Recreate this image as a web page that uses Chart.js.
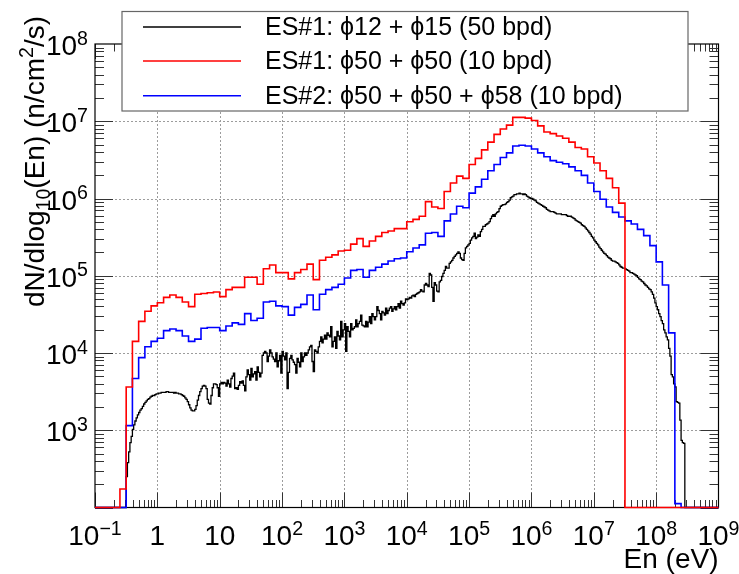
<!DOCTYPE html>
<html>
<head>
<meta charset="utf-8">
<title>Neutron spectrum</title>
<script src="https://cdn.jsdelivr.net/npm/chart.js@4.4.1/dist/chart.umd.min.js"></script>
<style>
  html, body { margin: 0; padding: 0; background: #fff; }
  canvas { display: block; }
</style>
</head>
<body>
<canvas id="chart" width="739" height="574"></canvas>
<script>
// Axis ranges
const eMin = 0.1, eMax = 1e9;
const fluxMin = 1e2, fluxMax = 1e8;

// Tick labels (base, exponent)
const xTickValues = [0.1, 1, 10, 1e2, 1e3, 1e4, 1e5, 1e6, 1e7, 1e8, 1e9];
const xTickLabels = [['10', '\u22121'], ['1', ''], ['10', ''], ['10', '2'], ['10', '3'], ['10', '4'],
  ['10', '5'], ['10', '6'], ['10', '7'], ['10', '8'], ['10', '9']];
const yTickValues = [1e3, 1e4, 1e5, 1e6, 1e7, 1e8];
const yTickLabels = [['10', '3'], ['10', '4'], ['10', '5'], ['10', '6'], ['10', '7'], ['10', '8']];

// Series
const seriesNames = ['ES#1: \u03d512 + \u03d515 (50 bpd)', 'ES#1: \u03d550 + \u03d550 (10 bpd)', 'ES#2: \u03d550 + \u03d550 + \u03d558 (10 bpd)'];
const seriesColors = ['#000000', '#ff0000', '#0000ff'];

// log10 of flux per bin (null = empty bin)
// red: 10 bins per decade starting at 0.1 eV
const redLog10 = [null, null, null, null, 2.24, 3.56, 4.15, 4.41, 4.54, 4.61,
  4.65, 4.72, 4.75, 4.72, 4.66, 4.60, 4.76, 4.77, 4.78, 4.79,
  4.73, 4.82, 4.85, 4.85, 4.98, 4.98, 4.89, 5.09, 5.14, 5.04,
  5.04, 4.96, 5.04, 5.08, 5.15, 4.95, 5.20, 5.24, 5.27, 5.32,
  5.33, 5.41, 5.48, 5.38, 5.45, 5.51, 5.56, 5.58, 5.61, 5.61,
  5.70, 5.73, 5.77, 5.96, 5.89, 5.87, 6.09, 6.20, 6.29, 6.26,
  6.44, 6.52, 6.63, 6.73, 6.83, 6.90, 6.95, 7.05, 7.05, 7.04,
  7.01, 6.94, 6.86, 6.84, 6.81, 6.78, 6.73, 6.66, 6.64, 6.54,
  6.46, 6.36, 6.26, 6.14, 5.94];

// blue: 10 bins per decade starting at 0.1 eV
const blueLog10 = [null, null, null, null, null, 3.06, 3.67, 3.94, 4.08, 4.15,
  4.19, 4.29, 4.31, 4.29, 4.22, 4.15, 4.18, 4.32, 4.33, 4.33,
  4.29, 4.35, 4.39, 4.37, 4.51, 4.42, 4.45, 4.66, 4.67, 4.61,
  4.60, 4.49, 4.59, 4.63, 4.75, 4.56, 4.76, 4.82, 4.85, 4.89,
  4.97, 5.07, 5.08, 4.98, 5.07, 5.11, 5.15, 5.19, 5.22, 5.23,
  5.31, 5.36, 5.40, 5.55, 5.56, 5.51, 5.71, 5.80, 5.90, 5.88,
  6.07, 6.15, 6.25, 6.36, 6.44, 6.53, 6.59, 6.68, 6.69, 6.68,
  6.64, 6.59, 6.54, 6.49, 6.47, 6.45, 6.41, 6.36, 6.30, 6.20,
  6.09, 5.99, 5.89, 5.82, 5.76, 5.71, 5.67, 5.60, 5.52, 5.39,
  5.18, 4.88, 4.26, 2.05];

// black: 50 bins per decade, first listed bin starts at 10^-0.5 eV
const blackFirstLowE = 0.316228;
const blackLog10 = [
  2.40, 2.58, 2.72, 2.84, 2.92, 3.01, 3.07, 3.12, 3.16, 3.20,
  3.23, 3.26, 3.28, 3.31, 3.34, 3.36, 3.38, 3.40, 3.41, 3.43,
  3.44, 3.45, 3.45, 3.46, 3.47, 3.47, 3.48, 3.48, 3.49, 3.49,
  3.49, 3.49, 3.50, 3.50, 3.49, 3.49, 3.49, 3.49, 3.48, 3.49,
  3.48, 3.48, 3.47, 3.47, 3.46, 3.45, 3.44, 3.42, 3.40, 3.37,
  3.33, 3.29, 3.26, 3.25, 3.25, 3.27, 3.32, 3.39, 3.45, 3.50,
  3.54, 3.57, 3.58, 3.57, 3.54, 3.40, 3.35, 3.34, 3.45, 3.55,
  3.60, 3.60, 3.59, 3.55, 3.44, 3.60, 3.62, 3.60, 3.62, 3.61,
  3.57, 3.65, 3.60, 3.56, 3.67, 3.70, 3.74, 3.54, 3.55, 3.53,
  3.58, 3.63, 3.61, 3.64, 3.58, 3.51, 3.69, 3.78, 3.72, 3.65,
  3.80, 3.69, 3.73, 3.76, 3.65, 3.82, 3.75, 3.69, 3.74, 3.97,
  4.00, 4.02, 4.00, 3.89, 3.96, 4.04, 4.00, 3.95, 3.92, 3.89,
  4.00, 3.82, 3.90, 3.97, 3.74, 4.02, 3.96, 3.91, 4.00, 3.54,
  3.75, 3.93, 3.97, 3.91, 3.88, 3.85, 3.74, 3.93, 3.88, 3.82,
  4.00, 3.89, 3.95, 4.00, 3.97, 4.00, 4.04, 4.08, 4.10, 3.89,
  3.76, 4.04, 4.02, 4.00, 4.08, 4.15, 4.21, 4.13, 4.18, 4.23,
  4.18, 4.26, 4.23, 4.21, 4.34, 4.08, 4.15, 4.21, 4.06, 4.28,
  4.22, 4.17, 4.41, 4.21, 4.30, 4.38, 4.02, 4.34, 4.28, 4.21,
  4.38, 4.30, 4.32, 4.34, 4.43, 4.34, 4.38, 4.41, 4.49, 4.36,
  4.35, 4.34, 4.41, 4.34, 4.40, 4.47, 4.38, 4.51, 4.47, 4.43,
  4.47, 4.60, 4.55, 4.51, 4.43, 4.54, 4.52, 4.49, 4.58, 4.51,
  4.55, 4.58, 4.60, 4.54, 4.57, 4.60, 4.56, 4.60, 4.64, 4.58,
  4.67, 4.64, 4.62, 4.65, 4.70, 4.69, 4.70, 4.72, 4.71, 4.74,
  4.75, 4.73, 4.76, 4.77, 4.78, 4.79, 4.82, 4.80, 4.79, 4.88,
  4.90, 4.88, 4.86, 5.03, 5.01, 4.85, 4.67, 4.91, 4.88, 4.80,
  4.79, 4.92, 4.94, 4.99, 5.03, 5.07, 5.12, 5.10, 5.10, 5.16,
  5.18, 5.20, 5.23, 5.25, 5.27, 5.29, 5.31, 5.29, 5.23, 5.21,
  5.20, 5.29, 5.36, 5.38, 5.40, 5.42, 5.46, 5.49, 5.51, 5.55,
  5.48, 5.50, 5.53, 5.51, 5.57, 5.60, 5.64, 5.64, 5.66, 5.67,
  5.68, 5.70, 5.74, 5.77, 5.79, 5.77, 5.80, 5.82, 5.83, 5.87,
  5.90, 5.91, 5.92, 5.92, 5.93, 5.95, 5.96, 5.98, 6.01, 6.02,
  6.03, 6.05, 6.05, 6.06, 6.06, 6.07, 6.06, 6.06, 6.05, 6.06,
  6.05, 6.03, 6.02, 6.01, 6.00, 6.00, 5.99, 5.98, 5.97, 5.95,
  5.94, 5.93, 5.92, 5.91, 5.90, 5.89, 5.88, 5.86, 5.85, 5.84,
  5.83, 5.83, 5.83, 5.82, 5.81, 5.80, 5.80, 5.80, 5.80, 5.79,
  5.79, 5.79, 5.79, 5.78, 5.77, 5.77, 5.77, 5.76, 5.75, 5.74,
  5.72, 5.71, 5.70, 5.69, 5.68, 5.66, 5.65, 5.64, 5.62, 5.60,
  5.58, 5.56, 5.54, 5.51, 5.49, 5.46, 5.44, 5.42, 5.40, 5.37,
  5.35, 5.33, 5.31, 5.29, 5.28, 5.26, 5.24, 5.23, 5.22, 5.20,
  5.19, 5.19, 5.18, 5.17, 5.16, 5.14, 5.12, 5.11, 5.10, 5.10,
  5.09, 5.08, 5.07, 5.06, 5.04, 5.04, 5.03, 5.02, 5.01, 5.00,
  4.98, 4.96, 4.95, 4.93, 4.92, 4.90, 4.88, 4.87, 4.85, 4.83,
  4.82, 4.79, 4.76, 4.71, 4.65, 4.60, 4.56, 4.51, 4.47, 4.42,
  4.38, 4.30, 4.26, 4.21, 4.17, 4.06, 3.96, 3.72, 3.69, 3.60,
  3.56, 3.37, 3.36, 3.35, 3.13, 2.87, 2.84, 2.83];

const FONT = '"Liberation Sans", Arial, Helvetica, sans-serif';

// Step histogram points: one point at each bin low edge, empty bins sit on the axis floor
function histogramPoints(log10Values, firstLowE, binsPerDecade) {
  const nBins = Math.round(Math.log10(eMax / eMin) * binsPerDecade);
  const offset = Math.round(Math.log10(firstLowE / eMin) * binsPerDecade);
  const pts = [];
  let y = fluxMin;
  for (let i = 0; i < nBins; i++) {
    const v = log10Values[i - offset];
    y = (v === undefined || v === null) ? fluxMin : Math.pow(10, v);
    pts.push({ x: eMin * Math.pow(10, i / binsPerDecade), y: y });
  }
  pts.push({ x: eMax, y: y });
  return pts;
}

function drawPower(ctx, base, exp, xPos, baseline, align, size) {
  const small = size * 0.7;
  ctx.font = size + 'px ' + FONT;
  const wb = ctx.measureText(base).width;
  ctx.font = small + 'px ' + FONT;
  const we = exp ? ctx.measureText(exp).width : 0;
  const total = wb + we;
  let left = xPos;
  if (align === 'center') left = xPos - total / 2;
  if (align === 'right') left = xPos - total;
  ctx.textAlign = 'left';
  ctx.textBaseline = 'alphabetic';
  ctx.font = size + 'px ' + FONT;
  ctx.fillText(base, left, baseline);
  if (exp) {
    ctx.font = small + 'px ' + FONT;
    ctx.fillText(exp, left + wb, baseline - size * 0.37);
  }
}

// pieces: [text, scale, shift(in em, + = down)]
function richWidth(ctx, pieces, size) {
  let w = 0;
  pieces.forEach(p => {
    ctx.font = (size * p[1]) + 'px ' + FONT;
    w += ctx.measureText(p[0]).width;
  });
  return w;
}
function drawRich(ctx, pieces, x, y, size) {
  ctx.textAlign = 'left';
  ctx.textBaseline = 'alphabetic';
  pieces.forEach(p => {
    ctx.font = (size * p[1]) + 'px ' + FONT;
    ctx.fillText(p[0], x, y + p[2] * size);
    x += ctx.measureText(p[0]).width;
  });
}

const rootFrame = {
  id: 'rootFrame',
  beforeDatasetsDraw(chart) {
    const { ctx, chartArea: a, scales: { x, y } } = chart;
    ctx.save();

    // dotted grid at decades
    ctx.strokeStyle = '#9c9c9c';
    ctx.lineWidth = 1;
    ctx.setLineDash([2, 2]);
    xTickValues.forEach(v => {
      if (v <= eMin || v >= eMax) return;
      const px = Math.round(x.getPixelForValue(v)) + 0.5;
      ctx.beginPath(); ctx.moveTo(px, a.top); ctx.lineTo(px, a.bottom); ctx.stroke();
    });
    yTickValues.forEach(v => {
      if (v <= fluxMin || v >= fluxMax) return;
      const py = Math.round(y.getPixelForValue(v)) + 0.5;
      ctx.beginPath(); ctx.moveTo(a.left, py); ctx.lineTo(a.right, py); ctx.stroke();
    });
    ctx.setLineDash([]);

    // inward ticks on all four sides
    ctx.strokeStyle = '#333';
    ctx.lineWidth = 1;
    for (let n = Math.log10(eMin); n < Math.log10(eMax); n++) {
      for (let m = 1; m <= 9; m++) {
        const px = Math.round(x.getPixelForValue(m * Math.pow(10, n))) + 0.5;
        const len = m === 1 ? 15 : 7.5;
        ctx.beginPath();
        ctx.moveTo(px, a.bottom); ctx.lineTo(px, a.bottom - len);
        ctx.moveTo(px, a.top); ctx.lineTo(px, a.top + len);
        ctx.stroke();
      }
    }
    for (let n = Math.log10(fluxMin); n < Math.log10(fluxMax); n++) {
      for (let m = 1; m <= 9; m++) {
        const py = Math.round(y.getPixelForValue(m * Math.pow(10, n))) + 0.5;
        const len = m === 1 ? 18 : 9;
        ctx.beginPath();
        ctx.moveTo(a.left, py); ctx.lineTo(a.left + len, py);
        ctx.moveTo(a.right, py); ctx.lineTo(a.right - len, py);
        ctx.stroke();
      }
    }

    // frame
    ctx.strokeStyle = '#000';
    ctx.lineWidth = 1.2;
    ctx.strokeRect(a.left, a.top, a.right - a.left, a.bottom - a.top);
    ctx.restore();
  },
  afterDraw(chart) {
    const { ctx, chartArea: a, scales: { x, y } } = chart;
    ctx.save();
    ctx.fillStyle = '#000';

    // tick labels
    xTickValues.forEach((v, i) => {
      drawPower(ctx, xTickLabels[i][0], xTickLabels[i][1], x.getPixelForValue(v), 545, 'center', 28);
    });
    yTickValues.forEach((v, i) => {
      drawPower(ctx, yTickLabels[i][0], yTickLabels[i][1], 88, y.getPixelForValue(v) + 11, 'right', 28);
    });

    // axis titles
    ctx.font = '28px ' + FONT;
    ctx.textAlign = 'right';
    ctx.fillText('En (eV)', a.right, 568);

    const yTitle = [['dN/dlog', 1, 0], ['10', 0.7, 0.22], ['(En) (n/cm', 1, 0], ['2', 0.7, -0.38], ['/s)', 1, 0]];
    const w = richWidth(ctx, yTitle, 28);
    ctx.translate(43.5, 16);
    ctx.rotate(-Math.PI / 2);
    drawRich(ctx, yTitle, -w, 0, 28);
    ctx.setTransform(1, 0, 0, 1, 0, 0);

    // legend box
    const box = { l: 122, t: 11.5, r: 688, b: 111 };
    ctx.fillStyle = '#fff';
    ctx.fillRect(box.l, box.t, box.r - box.l, box.b - box.t);
    ctx.strokeStyle = '#666';
    ctx.lineWidth = 1.2;
    ctx.strokeRect(box.l, box.t, box.r - box.l, box.b - box.t);
    const rows = [27, 61, 95.7];
    seriesNames.forEach((name, i) => {
      ctx.strokeStyle = seriesColors[i];
      ctx.lineWidth = 1.5;
      ctx.beginPath(); ctx.moveTo(143, rows[i]); ctx.lineTo(241, rows[i]); ctx.stroke();
      ctx.fillStyle = '#000';
      ctx.font = '25px ' + FONT;
      ctx.textAlign = 'left';
      ctx.textBaseline = 'middle';
      ctx.fillText(name, 265, rows[i] + 1);
    });
    ctx.restore();
  }
};

const datasets = [
  { label: seriesNames[1], data: histogramPoints(redLog10, eMin, 10), borderColor: seriesColors[1], borderWidth: 1.6, order: 0 },
  { label: seriesNames[2], data: histogramPoints(blueLog10, eMin, 10), borderColor: seriesColors[2], borderWidth: 1.6, order: 1 },
  { label: seriesNames[0], data: histogramPoints(blackLog10, blackFirstLowE, 50), borderColor: seriesColors[0], borderWidth: 1.3, order: 2 }
].map(d => Object.assign(d, { stepped: true, pointRadius: 0, fill: false, tension: 0, clip: 4 }));

new Chart(document.getElementById('chart'), {
  type: 'line',
  data: { datasets: datasets },
  options: {
    responsive: false,
    devicePixelRatio: 1,
    animation: false,
    events: [],
    layout: { padding: { left: 95, right: 20.5, top: 44, bottom: 66.5 } },
    scales: {
      x: { type: 'logarithmic', min: eMin, max: eMax, display: false },
      y: { type: 'logarithmic', min: fluxMin, max: fluxMax, display: false }
    },
    plugins: { legend: { display: false }, tooltip: { enabled: false } }
  },
  plugins: [rootFrame]
});
</script>
</body>
</html>
